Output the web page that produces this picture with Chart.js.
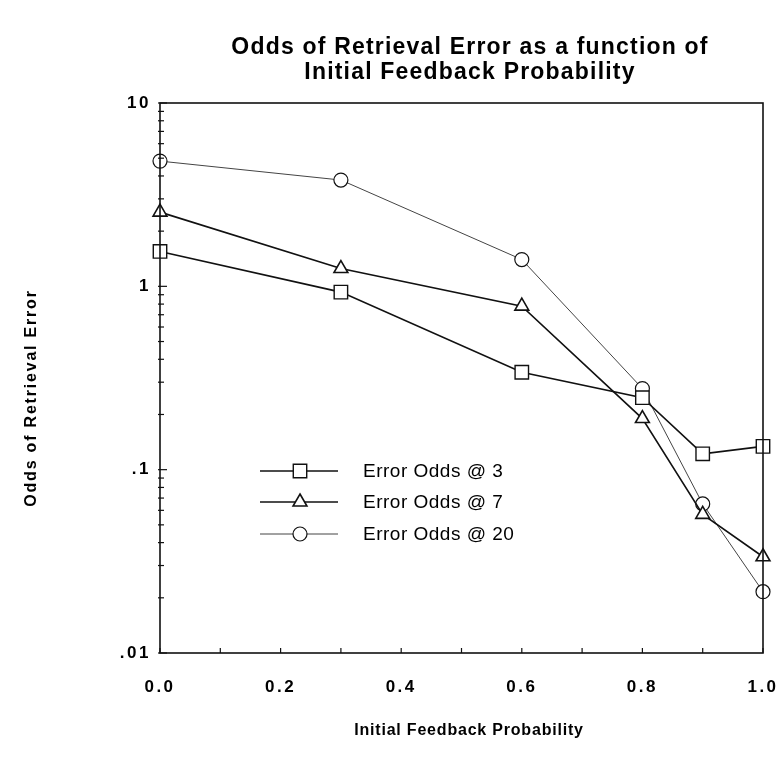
<!DOCTYPE html>
<html>
<head>
<meta charset="utf-8">
<script src="https://cdn.jsdelivr.net/npm/chart.js@4.4.1/dist/chart.umd.min.js"></script>
<style>
  html, body { margin: 0; padding: 0; background: #fff; }
  #wrap { width: 780px; height: 769px; position: relative; }
</style>
</head>
<body>
<div id="wrap"><canvas id="c" width="780" height="769"></canvas></div>
<script>
// Initial feedback probability (x) and odds of retrieval error (log y)
const feedbackProb = [0.0, 0.3, 0.6, 0.8, 0.9, 1.0];
const oddsAt3  = [1.55, 0.93, 0.34, 0.247, 0.122, 0.134];
const oddsAt7  = [2.54, 1.25, 0.78, 0.19, 0.057, 0.0335];
const oddsAt20 = [4.82, 3.80, 1.40, 0.277, 0.065, 0.0216];

const seriesNames = ['Error Odds @ 3', 'Error Odds @ 7', 'Error Odds @ 20'];
const xTickValues = [0.0, 0.2, 0.4, 0.6, 0.8, 1.0];
const xTickLabels = ['0.0', '0.2', '0.4', '0.6', '0.8', '1.0'];
const yTickValues = [0.01, 0.1, 1, 10];
const yTickLabels = ['.01', '.1', '1', '10'];
const titleLines = ['Odds of Retrieval Error as a function of', 'Initial Feedback Probability'];
const xTitle = 'Initial Feedback Probability';
const yTitle = 'Odds of Retrieval Error';

const FONT = '"Liberation Sans", Arial, Helvetica, sans-serif';

function pts(vals) { return feedbackProb.map((x, i) => ({ x: x, y: vals[i] })); }

const datasets = [
  { label: seriesNames[0], data: pts(oddsAt3), pointStyle: 'rect', pointRadius: 9.5,
    borderColor: '#111', borderWidth: 1.6, pointBorderWidth: 1.4 },
  { label: seriesNames[1], data: pts(oddsAt7), pointStyle: 'triangle', pointRadius: 8,
    borderColor: '#111', borderWidth: 1.6, pointBorderWidth: 1.6 },
  { label: seriesNames[2], data: pts(oddsAt20), pointStyle: 'circle', pointRadius: 7,
    borderColor: '#444', borderWidth: 1.0, pointBorderWidth: 1.2 }
].map(d => Object.assign(d, {
  backgroundColor: '#fff', pointBackgroundColor: '#fff', pointBorderColor: '#111',
  tension: 0, clip: false, showLine: true, pointHoverRadius: d.pointRadius
}));

// Wider letter spacing for the axis tick labels
const tickSpacing = {
  id: 'tickSpacing',
  beforeDraw(chart) { chart.ctx.letterSpacing = '2.5px'; },
  beforeDatasetsDraw(chart) { chart.ctx.letterSpacing = '0px'; }
};

// Frame, inward ticks, titles and legend
const decorations = {
  id: 'decorations',
  afterDatasetsDraw(chart) {
    const ctx = chart.ctx;
    const a = chart.chartArea;
    const xs = chart.scales.x, ys = chart.scales.y;
    ctx.save();
    ctx.strokeStyle = '#111';
    ctx.lineWidth = 1.6;
    ctx.strokeRect(a.left, a.top, a.right - a.left, a.bottom - a.top);

    // x ticks every 0.1, pointing up into the plot
    ctx.lineWidth = 1.2;
    for (let i = 0; i <= 10; i++) {
      const px = xs.getPixelForValue(i / 10);
      ctx.beginPath(); ctx.moveTo(px, a.bottom); ctx.lineTo(px, a.bottom - 5); ctx.stroke();
    }
    // log ticks on the left axis
    for (let e = -2; e <= 0; e++) {
      for (let m = 1; m <= 9; m++) {
        const v = m * Math.pow(10, e);
        const py = ys.getPixelForValue(v);
        const len = m === 1 ? 7 : 4;
        ctx.beginPath(); ctx.moveTo(a.left - 2, py); ctx.lineTo(a.left + len, py); ctx.stroke();
      }
    }
    {
      const py = ys.getPixelForValue(10);
      ctx.beginPath(); ctx.moveTo(a.left - 2, py); ctx.lineTo(a.left + 7, py); ctx.stroke();
    }

    // titles
    ctx.fillStyle = '#000';
    ctx.textAlign = 'center';
    ctx.textBaseline = 'middle';
    ctx.font = 'bold 23px ' + FONT;
    ctx.letterSpacing = '1.2px';
    ctx.fillText(titleLines[0], 470, 48);
    ctx.fillText(titleLines[1], 470, 73);
    ctx.font = 'bold 16px ' + FONT;
    ctx.letterSpacing = '0.8px';
    ctx.fillText(xTitle, 469, 731);
    ctx.save();
    ctx.translate(32, 398);
    ctx.rotate(-Math.PI / 2);
    ctx.letterSpacing = '1.8px';
    ctx.fillText(yTitle, 0, 0);
    ctx.restore();

    // legend
    const rows = [471, 502, 534];
    chart.data.datasets.forEach((d, i) => {
      const y = rows[i];
      ctx.strokeStyle = d.borderColor;
      ctx.lineWidth = d.borderWidth;
      ctx.beginPath(); ctx.moveTo(260, y); ctx.lineTo(338, y); ctx.stroke();
      ctx.lineWidth = d.pointBorderWidth;
      ctx.strokeStyle = '#111';
      ctx.fillStyle = '#fff';
      Chart.helpers.drawPoint(ctx, { pointStyle: d.pointStyle, radius: d.pointRadius, borderWidth: d.pointBorderWidth }, 300, y);
      ctx.fillStyle = '#000';
      ctx.textAlign = 'left';
      ctx.font = '19px ' + FONT;
      ctx.letterSpacing = '0.5px';
      ctx.fillText(d.label, 363, y + 1);
    });
    ctx.letterSpacing = '0px';
    ctx.restore();
  }
};

new Chart(document.getElementById('c'), {
  type: 'scatter',
  data: { datasets: datasets },
  options: {
    responsive: false,
    animation: false,
    layout: { padding: { top: 103, right: 17, left: 0, bottom: 0 } },
    plugins: { legend: { display: false }, tooltip: { enabled: false }, title: { display: false } },
    scales: {
      x: {
        type: 'linear', min: 0, max: 1,
        grid: { display: false }, border: { display: false },
        afterFit(s) { s.height = 116; s.paddingLeft = 0; s.paddingRight = 0; },
        afterBuildTicks(s) { s.ticks = xTickValues.map(v => ({ value: v })); },
        ticks: {
          padding: 16, color: '#000', maxRotation: 0,
          font: { family: FONT, size: 17, weight: 'bold' },
          callback: (v, i) => xTickLabels[i]
        }
      },
      y: {
        type: 'logarithmic', min: 0.01, max: 10,
        grid: { display: false }, border: { display: false },
        afterFit(s) { s.width = 160; s.paddingTop = 0; s.paddingBottom = 0; },
        afterBuildTicks(s) { s.ticks = yTickValues.map(v => ({ value: v })); },
        ticks: {
          padding: 1, color: '#000', autoSkip: false,
          font: { family: FONT, size: 17, weight: 'bold' },
          callback: (v, i) => yTickLabels[i]
        }
      }
    }
  },
  plugins: [tickSpacing, decorations]
});
</script>
</body>
</html>
